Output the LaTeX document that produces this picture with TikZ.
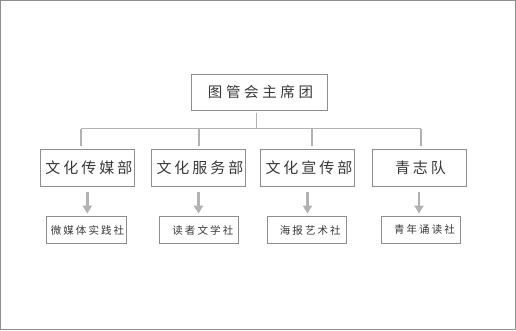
\documentclass[tikz,border=0pt]{standalone}
\usepackage{fontspec}
\usepackage{xcolor}
\usepackage{tikz}
\usetikzlibrary{arrows.meta, positioning}
\newfontfamily\cjktop[LetterSpace=25]{Noto Sans CJK SC}
\newfontfamily\cjkmid[LetterSpace=20]{Noto Sans CJK SC}
\newfontfamily\cjksub[LetterSpace=20]{Noto Sans CJK SC}
\definecolor{boxgray}{HTML}{8E8E8E}
\definecolor{linegray}{HTML}{B2B2B2}
\definecolor{txtgray}{HTML}{383838}

\tikzset{
  topbox/.style={draw=boxgray, line width=0.9pt, minimum width=136pt, minimum height=36pt,
    inner sep=0pt, text=txtgray, font=\cjktop\fontsize{14.5}{16}\selectfont},
  deptbox/.style={draw=boxgray, line width=0.9pt, minimum width=94pt, minimum height=36.5pt,
    inner sep=0pt, text=txtgray, font=\cjkmid\fontsize{15}{17}\selectfont},
  clubbox/.style={draw=boxgray, line width=0.9pt, minimum width=79.5pt, minimum height=26.5pt,
    inner sep=0pt, text=txtgray, font=\cjksub\fontsize{10.5}{12}\selectfont},
  link/.style={draw=linegray, line width=1.2pt},
  arr/.style={draw=linegray, fill=linegray, line width=2.6pt,
    -{Triangle[width=9pt, length=8pt]}}
}

\begin{document}
\begin{tikzpicture}[x=1pt, y=-1pt]
  \useasboundingbox (0,0) rectangle (516,330);
  % cadre extérieur
  \draw[boxgray, line width=1pt] (0.5,0.5) rectangle (515.5,329.5);

  % niveau supérieur
  \node[topbox] (top) at (259,92.3) {\hspace{3pt}图管会主席团};

  % départements
  \node[deptbox] (d1) at (87.3,168) {\hspace{3pt}文化传媒部};
  \node[deptbox] (d2) at (198.5,168) {\hspace{3pt}文化服务部};
  \node[deptbox] (d3) at (307.5,168) {\hspace{3pt}文化宣传部};
  \node[deptbox] (d4) at (419,168) {\hspace{3pt}青志队};

  % associations
  \node[clubbox] (s1) at (86.5,230) {\hspace{2pt}微媒体实践社};
  \node[clubbox] (s2) at (198.8,230) {\hspace{8pt}读者文学社};
  \node[clubbox] (s3) at (306.8,230) {\hspace{7pt}海报艺术社};
  \node[clubbox] (s4) at (421,230) {\hspace{7pt}青年诵读社};

  % lignes de liaison
  \coordinate (hub) at (256.7,128.5);
  \coordinate (t1) at (81,128.5);
  \coordinate (t2) at (199,128.5);
  \coordinate (t3) at (312,128.5);
  \coordinate (t4) at (421,128.5);
  \draw[link, shorten <=2.7pt] (hub |- top.south) -- (hub);
  \draw[link] (t1) -- (t4);
  \foreach \i in {1,2,3,4}
    \draw[link, shorten >=3.7pt] (t\i) -- (t\i |- d\i.north);

  % flèches vers les associations
  \foreach \i in {1,2,3,4}
    \draw[arr, shorten <=5.4pt, shorten >=2.7pt] (d\i.south) -- (d\i.south |- s\i.north);
\end{tikzpicture}
\end{document}
